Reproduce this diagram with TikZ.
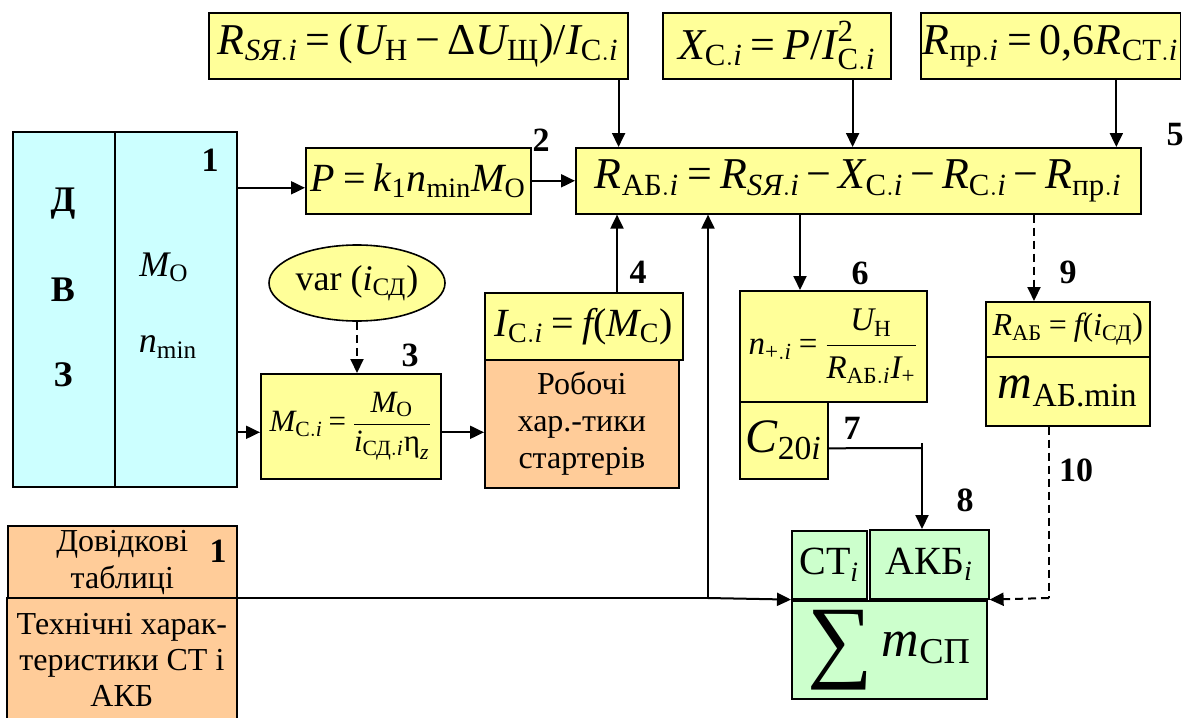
\documentclass[tikz,border=0pt]{standalone}
\usepackage{amsmath}
\usepackage{fontspec}
\setmainfont{Liberation Serif}
\usetikzlibrary{arrows.meta,calc,shapes.geometric}
\definecolor{yel}{HTML}{FFFF99}
\definecolor{cya}{HTML}{CCFFFF}
\definecolor{ora}{HTML}{FFCC99}
\definecolor{grn}{HTML}{CCFFCC}
\newcommand\mi[1]{\textit{#1}}
\newcommand\mr[1]{\textup{#1}}
\newcommand\eq{\mathrel{\textup{=}}}
\newcommand\mn{\mathbin{\textup{−}}}
\newcommand\LP{\mathopen{\textup{(}}}
\newcommand\RP{\mathclose{\textup{)}}}
\newcommand\SL{\mathord{\textup{/}}}
\newcommand\fz[2]{\fontsize{#1}{#2}\selectfont}
\thickmuskip=3.5mu plus 2mu
\medmuskip=3mu plus 1mu
\tikzset{
  bx/.style={draw, line width=0.8pt, inner sep=1pt, anchor=north west, align=center},
  ybox/.style={bx, fill=yel},
  cbx/.style={bx, fill=cya},
  obx/.style={bx, fill=ora},
  gbx/.style={bx, fill=grn},
  num/.style={font=\fz{17}{19}\bfseries, inner sep=0pt},
  tip/.tip={Triangle[length=7pt,width=6.5pt]},
  arr/.style={line width=1pt, -tip},
  ln/.style={line width=1pt},
  dsh/.style={line width=1pt, dash pattern=on 4pt off 2.5pt},
}
\begin{document}
\begin{tikzpicture}[x=0.5pt,y=-0.5pt]
\useasboundingbox (0,0) rectangle (1187,717);
\fill[white] (0,0) rectangle (1187,717);

% DVZ block
\node[cbx, minimum width=51pt, minimum height=177.5pt] (dvzL) at (12,131) {};
\node[cbx, minimum width=61pt, minimum height=177.5pt] (dvzR) at (114,131) {};
\node[font=\fz{18}{20}\bfseries, inner sep=0pt] (tD) at (63,204) {Д};
\node[font=\fz{18}{20}\bfseries, inner sep=0pt] (tV) at (63,290) {В};
\node[font=\fz{18}{20}\bfseries, inner sep=0pt] (tZ) at (63,375) {З};
\node[font=\fz{18}{20}, inner sep=0pt] (tMo) at (164,267) {$\mi{M}_{\mr{О}}$};
\node[font=\fz{18}{20}, inner sep=0pt] (tnm) at (168,347) {$\mi{n}_{\mr{min}}$};
\node[num] (n1a) at (210,160) {1};

% top formula boxes
\node[ybox, minimum width=209.5pt, minimum height=33pt, font=\fz{22}{25}] (rsy) at (208,12)
  {$\mi{R}_{\mi{SЯ}.\mi{i}} \eq \LP\mi{U}_{\mr{Н}} \mn \mr{Δ}\mi{U}_{\mr{Щ}}\RP\SL\mi{I}_{\mr{С}.\mi{i}}$};
\node[ybox, minimum width=114pt, minimum height=33pt, font=\fz{22}{25}] (xc) at (662,12)
  {$\mi{X}_{\mr{С}.\mi{i}} \eq \mi{P}\SL\mi{I}^{\mr{2}}_{\mr{С}.\mi{i}}$};
\node[ybox, minimum width=128.5pt, minimum height=33pt, font=\fz{22}{25}] (rpr) at (920,12)
  {$\mi{R}_{\mr{пр}.\mi{i}} \eq \mr{0,6}\mi{R}_{\mr{СТ}.\mi{i}}$};

% main row
\node[ybox, minimum width=112.5pt, minimum height=33pt, font=\fz{20}{23}] (pbox) at (305,147)
  {$\mi{P} \eq \mi{k}_{\mr{1}}\mi{n}_{\mr{min}}\mi{M}_{\mr{О}}$};
\node[ybox, minimum width=282.5pt, minimum height=33pt, font=\fz{22}{25}] (rab) at (575,147)
  {$\mi{R}_{\mr{АБ}.\mi{i}} \eq \mi{R}_{\mi{SЯ}.\mi{i}} \mn \mi{X}_{\mr{С}.\mi{i}} \mn \mi{R}_{\mr{С}.\mi{i}} \mn \mi{R}_{\mr{пр}.\mi{i}}$};
\node[num] (n2) at (541,140) {2};
\node[num] (n5) at (1175,135) {5};

% ellipse and M_C
\node[ellipse, draw, line width=0.8pt, fill=yel, minimum width=88pt, minimum height=38pt, inner sep=0pt, font=\fz{18}{20}] (var) at (357,283)
  {var ($\mi{i}_{\mr{СД}}$)};
\node[ybox, minimum width=90pt, minimum height=52.5pt, font=\fz{15.5}{17}] (mc) at (260,373)
  {$\mi{M}_{\mr{С}.\mi{i}} \eq \dfrac{\mi{M}_{\mr{О}}}{\mi{i}_{\mr{СД}.\mi{i}}\mr{η}_{\mi{z}}}$};
\node[num] (n3) at (410,355) {3};

% I_C and starter box
\node[ybox, minimum width=99pt, minimum height=33.5pt, font=\fz{20}{23}] (ic) at (484,292)
  {$\mi{I}_{\mr{С}.\mi{i}} \eq \mi{f}\LP\mi{M}_{\mr{С}}\RP$};
\node[obx, minimum width=97pt, minimum height=64pt, font=\fz{16}{18.5}] (rob) at (484,359)
  {Робочі\\хар.-тики\\стартерів};
\node[num] (n4) at (638,272) {4};

% n and C boxes
\node[ybox, minimum width=93.5pt, minimum height=55.5pt, font=\fz{16.5}{19}] (nbox) at (739,290)
  {$\mi{n}_{\mr{+}.\mi{i}} \eq \dfrac{\mi{U}_{\mr{Н}}}{\mi{R}_{\mr{АБ}.\mi{i}}\mi{I}_{\mr{+}}}$};
\node[ybox, minimum width=44pt, minimum height=38.5pt, font=\fz{24}{27}] (cbox) at (739,401)
  {$\mi{C}_{\mr{20}\mi{i}}$};
\node[num] (n6) at (860,273) {6};
\node[num] (n7) at (852,428) {7};

% R_AB = f and m_AB.min
\node[ybox, minimum width=82pt, minimum height=27.5pt, font=\fz{16}{18}] (rabf) at (985,301)
  {$\mi{R}_{\mr{АБ}} \eq \mi{f}\LP\mi{i}_{\mr{СД}}\RP$};
\node[ybox, minimum width=82pt, minimum height=34.5pt, font=\fz{24}{27}] (mab) at (985,356)
  {$\mi{m}_{\mr{АБ.min}}$};
\node[num] (n9) at (1068,272) {9};
\node[num] (n10) at (1076,470) {10};

% green boxes
\node[gbx, minimum width=37.5pt, minimum height=34pt, font=\fz{20}{23}] (ct) at (791,530) {$\mr{СТ}_{\mi{i}}$};
\node[gbx, minimum width=59.5pt, minimum height=34.5pt, font=\fz{20}{23}] (akb) at (869,529) {$\mr{АКБ}_{\mi{i}}$};
\node[gbx, minimum width=97.5pt, minimum height=49pt, font=\fz{26}{28}] (sum) at (791,600)
  {\raisebox{-7pt}{\fz{46}{46}∑}\,$\mi{m}_{\mr{СП}}$};
\node[num] (n8) at (965,500) {8};

% reference tables
\node[obx, minimum width=114.5pt, minimum height=36.5pt, font=\fz{16}{18.5}] (dov) at (7,525) {Довідкові\\таблиці};
\node[fill=ora, inner sep=1pt, anchor=north west, align=center, minimum width=114.5pt, minimum height=61pt, font=\fz{16}{18}] (tech) at (7,598)
  {Технічні харак-\\теристики СТ і\\АКБ};
\draw[line width=0.8pt] (tech.south west) -- (tech.north west) -- (tech.north east) -- (tech.south east);
\node[num] (n1b) at (218,551) {1};

% connector coordinates
\coordinate (a0) at ($(pbox.west)+(-69,7)$);
\coordinate (a0e) at ($(pbox.west)+(0,7)$);
\coordinate (a1) at ($(rsy.south east)+(-10,0)$);
\coordinate (a2) at ($(xc.south east)+(-39,0)$);
\coordinate (a3) at ($(rpr.south east)+(-65,0)$);
\coordinate (a4) at ($(mc.west)+(-24,6)$);
\coordinate (a4e) at ($(mc.west)+(0,6)$);
\coordinate (a5) at ($(mc.east)+(0,6)$);
\coordinate (a6) at ($(ic.north west)+(133,0)$);
\coordinate (a7) at ($(nbox.north west)+(61,0)$);
\coordinate (a8) at ($(rabf.north west)+(49,0)$);
\coordinate (a9) at ($(cbox.east)+(0,8)$);
\coordinate (c7) at (922,448);
\coordinate (c7t) at (922,443);
\coordinate (j1) at (708,598);
\coordinate (d10) at (1049,598);

% connectors
\draw[arr] (a0) -- (a0e);
\draw[arr] (pbox.east) -- (rab.west);
\draw[arr] (a1) -- (a1 |- rab.north);
\draw[arr] (a2) -- (a2 |- rab.north);
\draw[arr] (a3) -- (a3 |- rab.north);
\draw[dsh, -tip] (var.south) -- (var.south |- mc.north);
\draw[arr] (a4) -- (a4e);
\draw[arr] (a5) -- (a5 -| rob.west);
\draw[arr] (a6) -- (a6 |- rab.south);
\draw[ln] (tech.north east) -- (j1);
\draw[arr] (j1) -- (ct.south west);
\draw[arr] (j1) -- (j1 |- rab.south);
\draw[arr] (a7 |- rab.south) -- (a7);
\draw[dsh, -tip] (a8 |- rab.south) -- (a8);
\draw[ln] (a9) -- (c7);
\draw[arr] (c7t) -- (c7t |- akb.north);
\draw[dsh] (d10 |- mab.south) -- (d10);
\draw[dsh, -tip] (d10) -- (akb.south east);
\end{tikzpicture}
\end{document}
